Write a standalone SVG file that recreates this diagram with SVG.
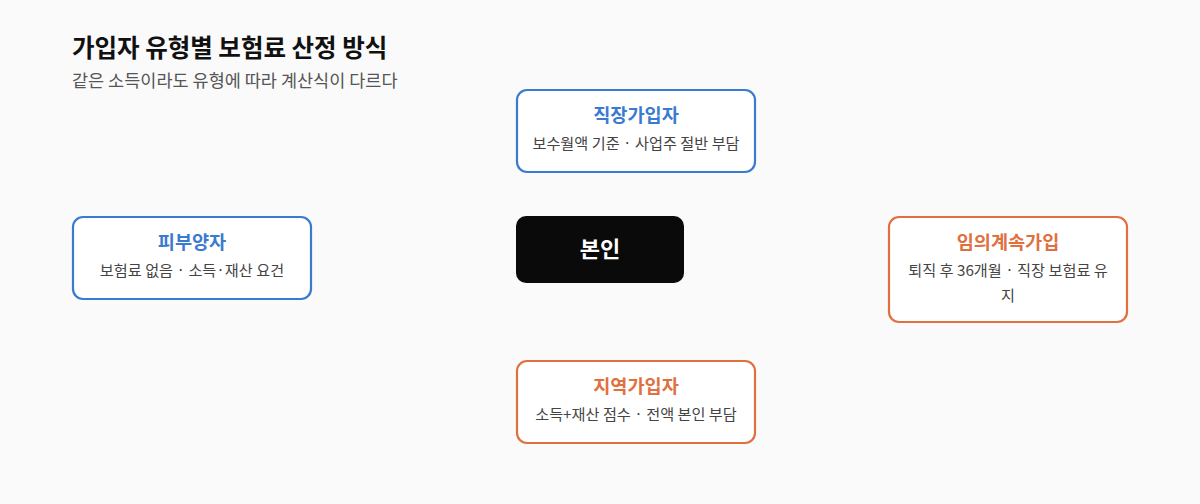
<svg xmlns="http://www.w3.org/2000/svg" width="1200" height="504" viewBox="0 0 1200 504">
<style>
text{font-family:"Noto Sans CJK KR","Noto Sans",sans-serif}
.box{fill:#ffffff;stroke-width:2.2}
.blue{stroke:#3a7bd0}
.orange{stroke:#e0703f}
.tb{font-size:18.6px;font-weight:700;text-anchor:middle;fill:#3a7bd0}
.to{font-size:18.6px;font-weight:700;text-anchor:middle;fill:#e0703f}
.sub{font-size:15.2px;text-anchor:middle;fill:#444444}
</style>
<rect width="1200" height="504" fill="#fafafa"/>
<text x="72" y="57" font-size="24.5" font-weight="700" fill="#111111">가입자 유형별 보험료 산정 방식</text>
<text x="72" y="87" font-size="17.5" fill="#555555">같은 소득이라도 유형에 따라 계산식이 다르다</text>
<g id="connectors"></g>
<g id="node-center">
<rect x="516" y="216" width="168" height="67" rx="10" fill="#0a0a0a"/>
<text x="600" y="257" font-size="22" font-weight="700" text-anchor="middle" fill="#ffffff">본인</text>
</g>
<g id="node-top">
<rect class="box blue" x="517" y="90" width="238" height="82" rx="10"/>
<text class="tb" x="636" y="122">직장가입자</text>
<text class="sub" x="636" y="149">보수월액 기준 · 사업주 절반 부담</text>
</g>
<g id="node-left">
<rect class="box blue" x="73" y="217" width="238" height="82" rx="10"/>
<text class="tb" x="192" y="249">피부양자</text>
<text class="sub" x="192" y="276">보험료 없음 · 소득·재산 요건</text>
</g>
<g id="node-right">
<rect class="box orange" x="889" y="217" width="238" height="105" rx="10"/>
<text class="to" x="1008" y="249">임의계속가입</text>
<text class="sub" x="1008" y="276">퇴직 후 36개월 · 직장 보험료 유</text>
<text class="sub" x="1008" y="301">지</text>
</g>
<g id="node-bottom">
<rect class="box orange" x="517" y="361" width="238" height="82" rx="10"/>
<text class="to" x="636" y="393">지역가입자</text>
<text class="sub" x="636" y="420">소득+재산 점수 · 전액 본인 부담</text>
</g>
</svg>
